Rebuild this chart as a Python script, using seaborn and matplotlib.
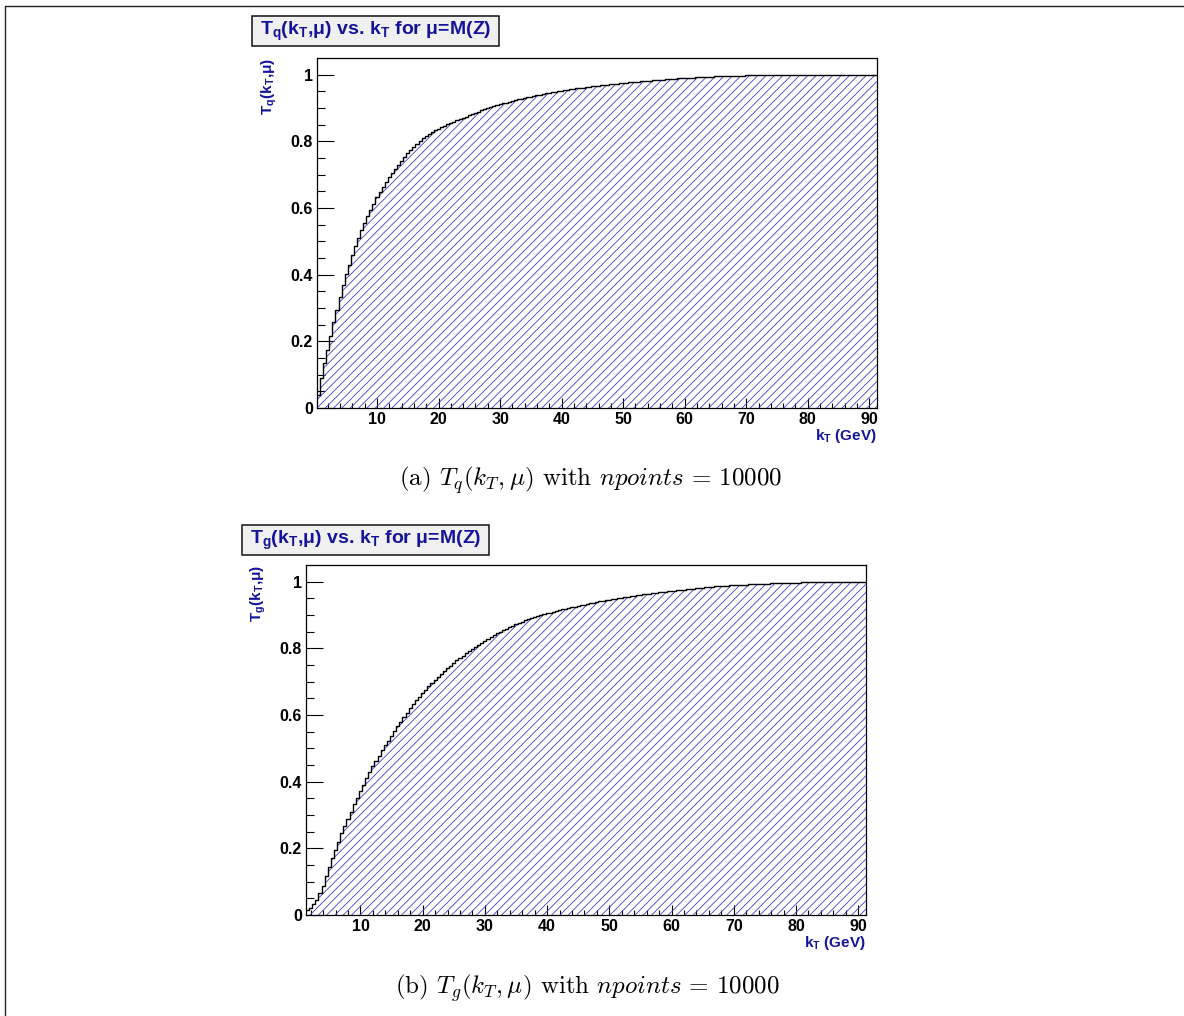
import numpy as np
import pandas as pd
import matplotlib
matplotlib.use("Agg")
import matplotlib.pyplot as plt
from matplotlib.lines import Line2D
from matplotlib.patches import Rectangle
import seaborn as sns

sns.set_theme(style="white")
plt.rcParams["font.family"] = ["Liberation Sans", "DejaVu Sans"]
plt.rcParams["hatch.linewidth"] = 0.6

# ---- data: cumulative form factors, 0.5 GeV bins ----
kt_q_range = (0.25, 91.25)
kt_g_range = (1.25, 91.25)

tq_values = [
    0.040, 0.090, 0.135, 0.175, 0.215, 0.258, 0.295, 0.333, 0.368, 0.402,
    0.430, 0.460, 0.485, 0.510, 0.533, 0.555, 0.575, 0.595, 0.613, 0.632,
    0.648, 0.663, 0.678, 0.692, 0.705, 0.718, 0.730, 0.742, 0.753, 0.764,
    0.774, 0.784, 0.793, 0.801, 0.809, 0.816, 0.822, 0.828, 0.833, 0.838,
    0.843, 0.847, 0.851, 0.855, 0.859, 0.863, 0.867, 0.871, 0.874, 0.878,
    0.882, 0.886, 0.889, 0.893, 0.896, 0.899, 0.902, 0.905, 0.908, 0.911,
    0.914, 0.916, 0.919, 0.921, 0.924, 0.926, 0.928, 0.930, 0.932, 0.934,
    0.936, 0.938, 0.940, 0.942, 0.944, 0.945, 0.947, 0.949, 0.950, 0.952,
    0.953, 0.955, 0.956, 0.957, 0.959, 0.960, 0.961, 0.962, 0.964, 0.965,
    0.966, 0.967, 0.968, 0.969, 0.970, 0.971, 0.972, 0.973, 0.974, 0.975,
    0.976, 0.977, 0.978, 0.979, 0.979, 0.980, 0.981, 0.982, 0.982, 0.983,
    0.984, 0.985, 0.985, 0.986, 0.987, 0.987, 0.988, 0.989, 0.989, 0.990,
    0.990, 0.991, 0.991, 0.992, 0.992, 0.993, 0.993, 0.994, 0.994, 0.995,
    0.995, 0.995, 0.996, 0.996, 0.996, 0.997, 0.997, 0.997, 0.997, 0.998,
    0.998, 0.998, 0.998, 0.998, 0.999, 0.999, 0.999, 0.999, 0.999, 0.999,
    0.999, 1.000, 1.000, 1.000, 1.000, 1.000, 1.000, 1.000, 1.000, 1.000,
    1.000, 1.000, 1.000, 1.000, 1.000, 1.000, 1.000, 1.000, 1.000, 1.000,
    1.000, 1.000, 1.000, 1.000, 1.000, 1.000, 1.000, 1.000, 1.000, 1.000,
    1.000, 1.000,
]

tg_values = [
    0.015, 0.022, 0.032, 0.045, 0.065, 0.088, 0.118, 0.145, 0.172, 0.195,
    0.218, 0.245, 0.268, 0.288, 0.310, 0.332, 0.352, 0.372, 0.390, 0.410,
    0.430, 0.447, 0.462, 0.477, 0.494, 0.509, 0.523, 0.538, 0.552, 0.566,
    0.580, 0.594, 0.607, 0.620, 0.633, 0.645, 0.655, 0.665, 0.676, 0.686,
    0.695, 0.704, 0.713, 0.722, 0.731, 0.740, 0.748, 0.756, 0.764, 0.771,
    0.778, 0.785, 0.792, 0.799, 0.805, 0.811, 0.817, 0.823, 0.829, 0.834,
    0.840, 0.845, 0.850, 0.855, 0.859, 0.864, 0.868, 0.872, 0.876, 0.880,
    0.884, 0.887, 0.890, 0.893, 0.896, 0.899, 0.902, 0.905, 0.907, 0.910,
    0.912, 0.915, 0.917, 0.919, 0.921, 0.923, 0.925, 0.927, 0.929, 0.931,
    0.933, 0.935, 0.937, 0.939, 0.941, 0.943, 0.944, 0.946, 0.948, 0.949,
    0.951, 0.952, 0.954, 0.955, 0.957, 0.958, 0.959, 0.961, 0.962, 0.963,
    0.964, 0.966, 0.967, 0.968, 0.969, 0.970, 0.971, 0.972, 0.973, 0.974,
    0.975, 0.976, 0.977, 0.978, 0.979, 0.980, 0.981, 0.982, 0.983, 0.984,
    0.985, 0.986, 0.986, 0.987, 0.988, 0.988, 0.989, 0.989, 0.990, 0.990,
    0.991, 0.991, 0.992, 0.992, 0.993, 0.993, 0.994, 0.994, 0.994, 0.995,
    0.995, 0.995, 0.996, 0.996, 0.996, 0.997, 0.997, 0.997, 0.997, 0.998,
    0.998, 0.998, 0.998, 0.998, 0.999, 0.999, 0.999, 0.999, 0.999, 0.999,
    0.999, 1.000, 1.000, 1.000, 1.000, 1.000, 1.000, 1.000, 1.000, 1.000,
]

x_ticks = [10, 20, 30, 40, 50, 60, 70, 80, 90]
y_ticks = [0.0, 0.2, 0.4, 0.6, 0.8, 1.0]
y_tick_labels = ["0", "0.2", "0.4", "0.6", "0.8", "1"]

title_q = r"T$_\mathregular{q}$(k$_\mathregular{T}$,μ) vs. k$_\mathregular{T}$ for μ=M(Z)"
title_g = r"T$_\mathregular{g}$(k$_\mathregular{T}$,μ) vs. k$_\mathregular{T}$ for μ=M(Z)"
ylabel_q = r"T$_\mathregular{q}$(k$_\mathregular{T}$,μ)"
ylabel_g = r"T$_\mathregular{g}$(k$_\mathregular{T}$,μ)"
xlabel = r"k$_\mathregular{T}$ (GeV)"
caption_q = r"(a) $T_q(k_T,\mu)$ with $npoints\,=\,10000$"
caption_g = r"(b) $T_g(k_T,\mu)$ with $npoints\,=\,10000$"

TEXT_BLUE = "#14149a"
HATCH_BLUE = "#4040c0"

W, H = 1184, 1016
fig = plt.figure(figsize=(W / 100, H / 100), dpi=100)
fig.patch.set_facecolor("white")


def fx(px):
    return px / W


def fy(py):
    return 1 - py / H


def draw_panel(ax, values, kt_range, ylabel):
    lo, hi = kt_range
    edges = np.linspace(lo, hi, len(values) + 1)
    df = pd.DataFrame({"kt": 0.5 * (edges[:-1] + edges[1:]),
                       "T": np.asarray(values, dtype=float)})
    # hatched area under the step curve
    n_before = len(ax.collections)
    sns.histplot(data=df, x="kt", weights="T", bins=list(edges),
                 element="step", fill=True, color=HATCH_BLUE, ax=ax)
    for coll in ax.collections[n_before:]:
        coll.set_facecolor("none")
        coll.set_edgecolor(HATCH_BLUE)
        coll.set_hatch("////")
        coll.set_linewidth(0)
    # black step outline
    sns.histplot(data=df, x="kt", weights="T", bins=list(edges),
                 element="step", fill=False, color="black", linewidth=1.0,
                 ax=ax)
    ax.set_xlim(lo, hi)
    ax.set_ylim(0, 1.05)
    ax.set_xlabel("")
    ax.set_ylabel("")
    ax.set_xticks(x_ticks, labels=[str(t) for t in x_ticks],
                  fontsize=11.5, fontweight="bold")
    ax.set_yticks(y_ticks, labels=y_tick_labels, fontsize=11.5,
                  fontweight="bold")
    ax.set_xticks(np.arange(2, hi, 2), minor=True)
    ax.set_yticks(np.arange(0.05, 1.0, 0.05), minor=True)
    ax.tick_params(axis="both", which="both", direction="in", colors="black",
                   width=0.8, top=False, right=False, left=True, bottom=True)
    ax.tick_params(axis="y", which="major", length=12, pad=3)
    ax.tick_params(axis="y", which="minor", length=6)
    ax.tick_params(axis="x", which="major", length=7.5, pad=3)
    ax.tick_params(axis="x", which="minor", length=3.8)
    for sp in ax.spines.values():
        sp.set_color("black")
        sp.set_linewidth(0.9)
    ax.grid(False)
    ax.text(-0.085, 1.0, ylabel, transform=ax.transAxes, rotation=90,
            ha="center", va="top", fontsize=11, fontweight="bold",
            color=TEXT_BLUE)
    ax.text(1.0, -0.08, xlabel, transform=ax.transAxes, ha="right",
            va="center", fontsize=11, fontweight="bold", color=TEXT_BLUE)


def title_box(x0, y0, x1, y1, text):
    fig.add_artist(Rectangle((fx(x0), fy(y1)), fx(x1) - fx(x0), fy(y0) - fy(y1),
                             transform=fig.transFigure, facecolor="#f0f0f0",
                             edgecolor="#111111", linewidth=1.1))
    fig.text(fx((x0 + x1) / 2), fy((y0 + y1) / 2), text, ha="center",
             va="center", fontsize=14, fontweight="bold", color=TEXT_BLUE)


ax_q = fig.add_axes([fx(317), fy(408), 560 / W, 350 / H])
draw_panel(ax_q, tq_values, kt_q_range, ylabel_q)
title_box(252, 16, 499, 46, title_q)

ax_g = fig.add_axes([fx(306), fy(915), 560 / W, 350 / H])
draw_panel(ax_g, tg_values, kt_g_range, ylabel_g)
title_box(242, 525, 489, 555, title_g)

fig.text(fx(591), fy(480), caption_q, ha="center", va="center", fontsize=18,
         family="cmr10", math_fontfamily="cm", color="black")
fig.text(fx(587), fy(988), caption_g, ha="center", va="center", fontsize=18,
         family="cmr10", math_fontfamily="cm", color="black")

# page frame
fig.add_artist(Line2D([fx(5), 1], [fy(6), fy(6)], transform=fig.transFigure,
                      color="#222222", linewidth=1.0))
fig.add_artist(Line2D([fx(5), fx(5)], [fy(6), 0], transform=fig.transFigure,
                      color="#222222", linewidth=1.0))

fig.savefig("out.png", dpi=100)
